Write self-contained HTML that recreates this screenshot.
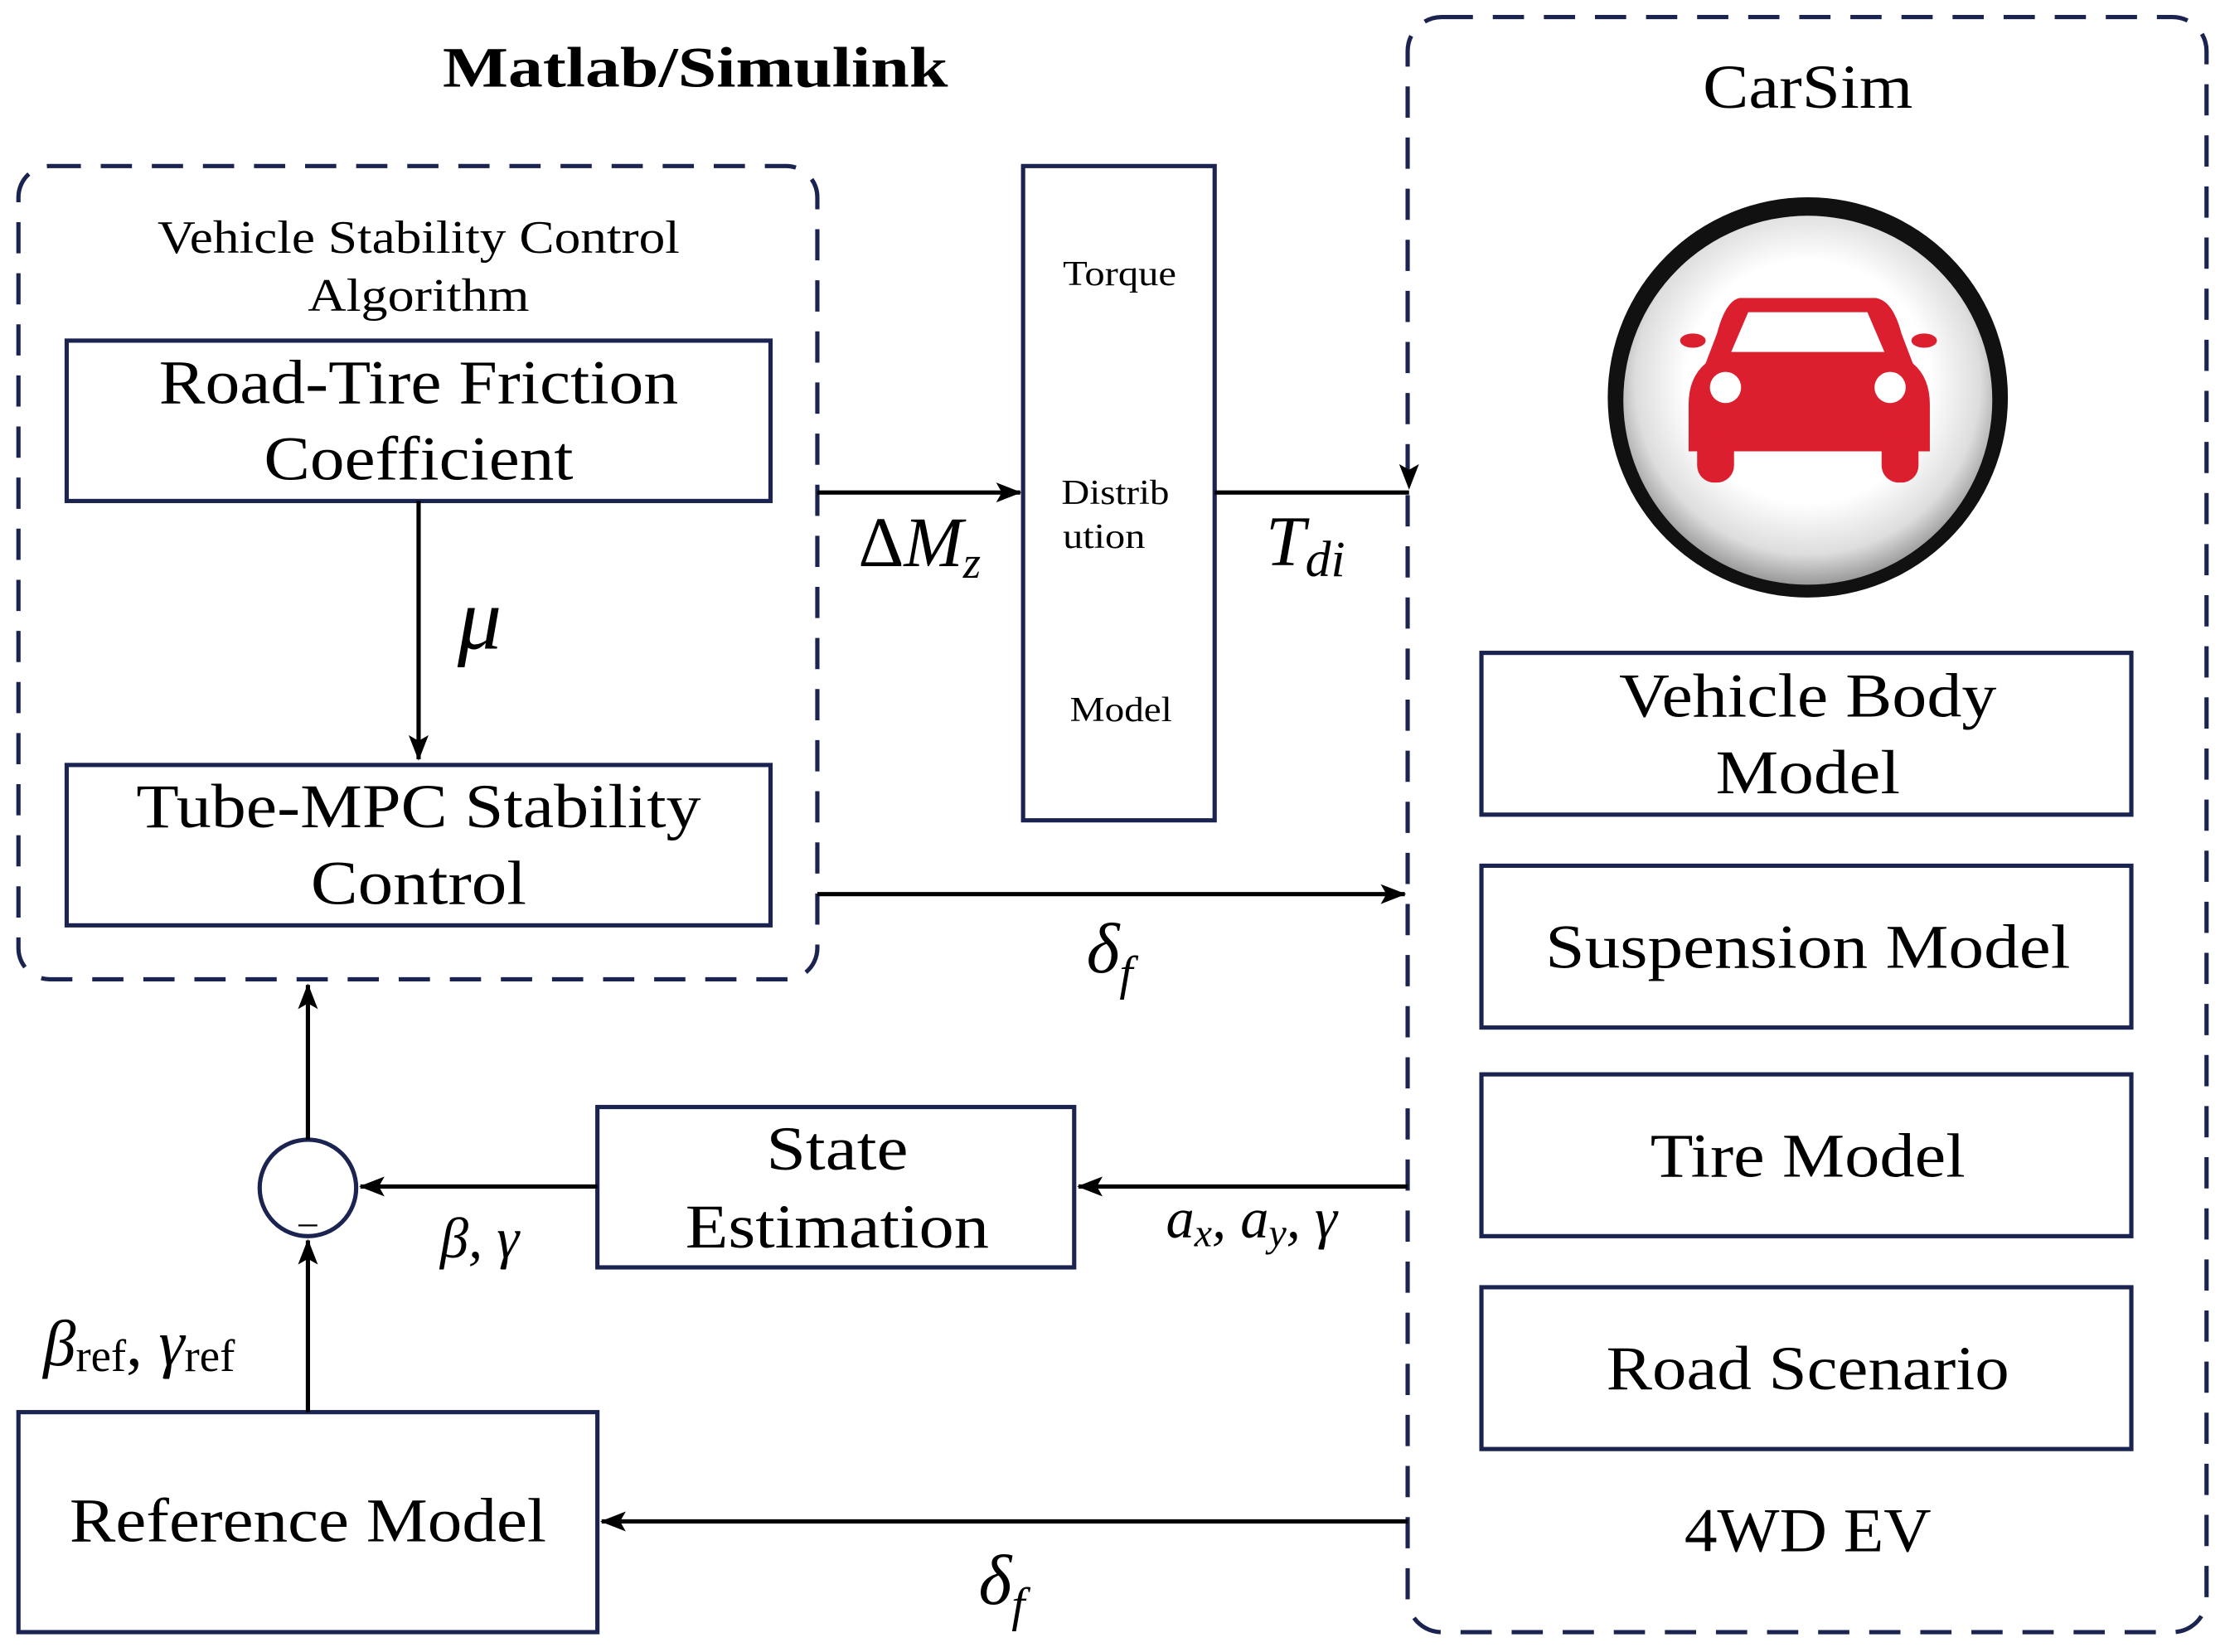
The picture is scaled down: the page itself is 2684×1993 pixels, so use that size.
<!DOCTYPE html>
<html><head><meta charset="utf-8"><style>html,body{margin:0;padding:0;background:#fff}svg{display:block}</style></head><body>
<svg width="2684" height="1993" viewBox="0 0 1568 1164" preserveAspectRatio="none" xmlns="http://www.w3.org/2000/svg" font-family="'Liberation Serif', serif">
<defs>
<marker id="a" markerWidth="18" markerHeight="14" refX="17" refY="7" orient="auto" markerUnits="userSpaceOnUse"><path d="M0,0 L18,7 L0,14 L4,7 Z" fill="#000"/></marker>
<radialGradient id="g" cx="50%" cy="45%" r="55%"><stop offset="0.6" stop-color="#fff"/><stop offset="0.85" stop-color="#ddd"/><stop offset="1" stop-color="#999"/></radialGradient>
</defs>
<g fill="none" stroke="#1b2350" stroke-width="3" stroke-dasharray="22,14">
<rect x="13" y="117" width="563" height="573" rx="22"/>
<rect x="992" y="12" width="563" height="1138" rx="24"/>
</g>
<g fill="#fff" stroke="#1b2350" stroke-width="3">
<rect x="47" y="240" width="496" height="113"/>
<rect x="47" y="539" width="496" height="113"/>
<rect x="721" y="117" width="135" height="461"/>
<rect x="1044" y="460" width="458" height="114"/>
<rect x="1044" y="610" width="458" height="114"/>
<rect x="1044" y="757" width="458" height="114"/>
<rect x="1044" y="907" width="458" height="114"/>
<rect x="421" y="780" width="336" height="113"/>
<rect x="13" y="995" width="408" height="155"/>
<circle cx="217" cy="837" r="34"/>
</g>
<g stroke="#000" stroke-width="3" fill="none" marker-end="url(#a)">
<line x1="295" y1="353" x2="295" y2="535"/>
<line x1="576" y1="347" x2="719" y2="347"/>
<line x1="576" y1="630" x2="990" y2="630"/>
<line x1="992" y1="836" x2="760" y2="836"/>
<line x1="421" y1="836" x2="254" y2="836"/>
<line x1="217" y1="995" x2="217" y2="874"/>
<line x1="217" y1="803" x2="217" y2="694"/>
<line x1="992" y1="1072" x2="424" y2="1072"/>
</g>
<line x1="856" y1="347" x2="993" y2="347" stroke="#000" stroke-width="3"/>
<path d="M986,327 L993,331 L1000,327 L993,345 Z" fill="#000"/>
<!-- car icon -->
<circle cx="1274" cy="280" r="141" fill="#111"/>
<circle cx="1274" cy="282" r="130" fill="url(#g)"/>
<g fill="#dc1f2e">
<path d="M1226,210 L1322,210 Q1334,212 1340,235 L1348,256 Q1360,266 1360,285 L1360,318 L1190,318 L1190,285 Q1190,266 1202,256 L1210,235 Q1216,212 1226,210 Z"/>
<rect x="1196" y="305" width="26" height="35" rx="12"/>
<rect x="1326" y="305" width="26" height="35" rx="12"/>
<ellipse cx="1193" cy="240" rx="9" ry="5"/>
<ellipse cx="1356" cy="240" rx="9" ry="5"/>
</g>
<path d="M1232,220 L1316,220 L1328,248 L1220,248 Z" fill="#fff"/>
<circle cx="1216" cy="273" r="11" fill="#fff"/>
<circle cx="1332" cy="273" r="11" fill="#fff"/>
<g fill="#000" text-anchor="middle" lengthAdjust="spacingAndGlyphs">
<text x="490" y="61" font-size="40" font-weight="bold" textLength="356" lengthAdjust="spacingAndGlyphs">Matlab/Simulink</text>
<text x="1274" y="76" font-size="44" textLength="148" lengthAdjust="spacingAndGlyphs">CarSim</text>
<text x="295" y="178" font-size="33" textLength="368" lengthAdjust="spacingAndGlyphs">Vehicle Stability Control</text>
<text x="295" y="219" font-size="33" textLength="156" lengthAdjust="spacingAndGlyphs">Algorithm</text>
<text x="295" y="284" font-size="44" textLength="366" lengthAdjust="spacingAndGlyphs">Road-Tire Friction</text>
<text x="295" y="338" font-size="44" textLength="218" lengthAdjust="spacingAndGlyphs">Coefficient</text>
<text x="295" y="583" font-size="44" textLength="398" lengthAdjust="spacingAndGlyphs">Tube-MPC Stability</text>
<text x="295" y="637" font-size="44" textLength="152" lengthAdjust="spacingAndGlyphs">Control</text>
<text x="789" y="201" font-size="25" textLength="80" lengthAdjust="spacingAndGlyphs">Torque</text>
<text x="786" y="355" font-size="25" textLength="76" lengthAdjust="spacingAndGlyphs">Distrib</text>
<text x="778" y="386" font-size="25" textLength="58" lengthAdjust="spacingAndGlyphs">ution</text>
<text x="790" y="508" font-size="25" textLength="72" lengthAdjust="spacingAndGlyphs">Model</text>
<text x="1274" y="505" font-size="44" textLength="266" lengthAdjust="spacingAndGlyphs">Vehicle Body</text>
<text x="1274" y="559" font-size="44" textLength="130" lengthAdjust="spacingAndGlyphs">Model</text>
<text x="1274" y="682" font-size="44" textLength="370" lengthAdjust="spacingAndGlyphs">Suspension Model</text>
<text x="1274" y="829" font-size="44" textLength="222" lengthAdjust="spacingAndGlyphs">Tire Model</text>
<text x="1274" y="979" font-size="44" textLength="284" lengthAdjust="spacingAndGlyphs">Road Scenario</text>
<text x="1274" y="1093" font-size="44" textLength="174" lengthAdjust="spacingAndGlyphs">4WD EV</text>
<text x="590" y="824" font-size="44" textLength="100" lengthAdjust="spacingAndGlyphs">State</text>
<text x="590" y="879" font-size="44" textLength="214" lengthAdjust="spacingAndGlyphs">Estimation</text>
<text x="217" y="1086" font-size="44" textLength="336" lengthAdjust="spacingAndGlyphs">Reference Model</text>
<text x="217" y="861" font-size="26">_</text>
<g font-style="italic">
<text x="338" y="457" font-size="62">μ</text>
<text x="782" y="685" font-size="50">δ<tspan font-size="34" dy="12">f</tspan></text>
<text x="706" y="1130" font-size="50">δ<tspan font-size="34" dy="12">f</tspan></text>
<text x="920" y="398" font-size="50">T<tspan font-size="36" dy="8">di</tspan></text>
<text x="882" y="872" font-size="40">a<tspan font-size="28" dy="6">x</tspan><tspan dy="-6">, a</tspan><tspan font-size="28" dy="6">y</tspan><tspan dy="-6">, γ</tspan></text>
<text x="338" y="886" font-size="40">β, γ</text>
</g>
<text x="648" y="399" font-size="50"><tspan>Δ</tspan><tspan font-style="italic">M</tspan><tspan font-style="italic" font-size="32" dy="8">z</tspan></text>
<text x="98" y="962" font-size="46"><tspan font-style="italic">β</tspan><tspan font-size="32" dy="4">ref</tspan><tspan dy="-4">, </tspan><tspan font-style="italic">γ</tspan><tspan font-size="32" dy="4">ref</tspan></text>
</g>
</svg>
</body></html>
